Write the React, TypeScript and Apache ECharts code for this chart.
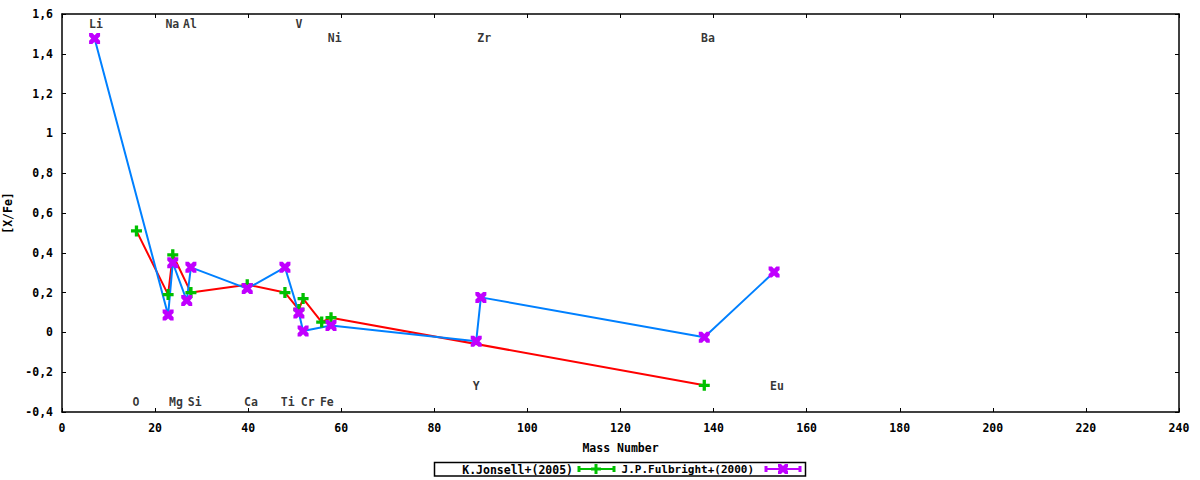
import React, { useEffect, useRef } from "react";
import * as echarts from "echarts";

// K.Jonsell+(2005)
const jonsellMass = [16, 22.8, 23.8, 27.7, 39.8, 47.9, 50.9, 51.8, 55.8, 57.8, 138];
const jonsellXFe = [0.51, 0.19, 0.39, 0.2, 0.24, 0.2, 0.115, 0.17, 0.052, 0.074, -0.266];

// J.P.Fulbright+(2000)
const fulbrightMass = [7, 22.8, 23.8, 26.8, 27.7, 39.8, 47.9, 50.9, 51.8, 57.8, 89, 90, 138, 153];
const fulbrightXFe = [1.477, 0.087, 0.35, 0.16, 0.327, 0.22, 0.327, 0.097, 0.007, 0.035, -0.044, 0.176, -0.024, 0.303];

// element annotations
const elementNames = ["Li", "Na", "Al", "V", "Ni", "Zr", "Ba", "O", "Mg", "Si", "Ca", "Ti", "Cr", "Fe", "Y", "Eu"];
const elementLabelX = [7.3, 23.7, 27.5, 50.9, 58.6, 90.7, 138.8, 15.9, 24.5, 28.5, 40.6, 48.5, 52.8, 56.9, 89, 153.6];
const elementLabelY = [1.55, 1.55, 1.55, 1.55, 1.48, 1.48, 1.48, -0.35, -0.35, -0.35, -0.35, -0.35, -0.35, -0.35, -0.27, -0.27];

const legendNames = ["K.Jonsell+(2005)", "J.P.Fulbright+(2000)"];

const FONT = "'DejaVu Sans Mono', 'Liberation Mono', monospace";
const GREEN = "#00c000";
const MAGENTA = "#c000ff";
const RED = "#ff0000";
const BLUE = "#0080ff";

const PLUS = "path://M3.5,0H6.5V3.5H10V6.5H6.5V10H3.5V6.5H0V3.5H3.5Z";
const XMARK = "path://M0,0L3,0L5,2L7,0L10,0L10,3L8,5L10,7L10,10L7,10L5,8L3,10L0,10L0,7L2,5L0,3Z";

const fmt = (v: number) => String(Math.round(v * 10) / 10).replace(".", ",");

export default function App() {
  const ref = useRef<HTMLDivElement>(null);
  useEffect(() => {
    if (!ref.current) return;
    const chart = echarts.init(ref.current, null, { renderer: "svg" });
    const textStyle = { fontFamily: FONT, fontSize: 11.5, fontWeight: "bold" as const, color: "#000" };
    const axisLine = { show: true, onZero: false, lineStyle: { color: "#000", width: 1.5 } };
    const axisTick = { show: true, inside: true, length: 4, lineStyle: { color: "#000" } };

    const legendGraphic = [
      {
        type: "rect",
        shape: { x: 434.5, y: 462.5, width: 371, height: 13.5 },
        style: { fill: "#fff", stroke: "#000", lineWidth: 1.5 },
      },
      {
        type: "text",
        x: 573,
        y: 469.5,
        style: { text: legendNames[0], align: "right", verticalAlign: "middle", font: `bold 11.5px ${FONT}`, fill: "#000" },
      },
      { type: "line", shape: { x1: 578, y1: 469, x2: 615, y2: 469 }, style: { stroke: GREEN, lineWidth: 2 } },
      { type: "line", shape: { x1: 579, y1: 466, x2: 579, y2: 472 }, style: { stroke: GREEN, lineWidth: 3 } },
      { type: "line", shape: { x1: 614, y1: 466, x2: 614, y2: 472 }, style: { stroke: GREEN, lineWidth: 3 } },
      { type: "rect", shape: { x: 591, y: 467.5, width: 10, height: 3 }, style: { fill: GREEN } },
      { type: "rect", shape: { x: 594.5, y: 464, width: 3, height: 10 }, style: { fill: GREEN } },
      {
        type: "text",
        x: 754,
        y: 469.5,
        style: { text: legendNames[1], align: "right", verticalAlign: "middle", font: `bold 11px ${FONT}`, fill: "#000" },
      },
      { type: "line", shape: { x1: 765, y1: 469, x2: 801, y2: 469 }, style: { stroke: MAGENTA, lineWidth: 2 } },
      { type: "line", shape: { x1: 766, y1: 466, x2: 766, y2: 472 }, style: { stroke: MAGENTA, lineWidth: 3 } },
      { type: "line", shape: { x1: 800, y1: 466, x2: 800, y2: 472 }, style: { stroke: MAGENTA, lineWidth: 3 } },
      {
        type: "polygon",
        shape: {
          points: [
            [778, 464], [781, 464], [783, 466], [785, 464], [788, 464], [788, 467], [786, 469], [788, 471],
            [788, 474], [785, 474], [783, 472], [781, 474], [778, 474], [778, 471], [780, 469], [778, 467],
          ],
        },
        style: { fill: MAGENTA },
      },
    ];

    chart.setOption({
      animation: false,
      backgroundColor: "#fff",
      grid: { left: 62, right: 21, top: 14, bottom: 68, containLabel: false, outerBoundsMode: "none" },
      xAxis: [
        {
          type: "value",
          min: 0,
          max: 240,
          interval: 20,
          name: "Mass Number",
          nameLocation: "middle",
          nameGap: 30,
          nameTextStyle: textStyle,
          axisLine,
          axisTick,
          axisLabel: { ...textStyle, margin: 10 },
          splitLine: { show: false },
        },
        {
          type: "value",
          position: "top",
          min: 0,
          max: 240,
          interval: 20,
          axisLine,
          axisTick,
          axisLabel: { show: false },
          splitLine: { show: false },
        },
      ],
      yAxis: [
        {
          type: "value",
          min: -0.4,
          max: 1.6,
          interval: 0.2,
          name: "[X/Fe]",
          nameLocation: "middle",
          nameGap: 43,
          nameRotate: 90,
          nameTextStyle: textStyle,
          axisLine,
          axisTick,
          axisLabel: { ...textStyle, margin: 9, formatter: fmt },
          splitLine: { show: false },
        },
        {
          type: "value",
          position: "right",
          min: -0.4,
          max: 1.6,
          interval: 0.2,
          axisLine,
          axisTick,
          axisLabel: { show: false },
          splitLine: { show: false },
        },
      ],
      series: [
        {
          name: legendNames[0],
          type: "line",
          data: jonsellMass.map((m, i) => [m, jonsellXFe[i]]),
          lineStyle: { color: RED, width: 2 },
          itemStyle: { color: GREEN },
          symbol: PLUS,
          symbolSize: 11,
          showAllSymbol: true,
        },
        {
          name: legendNames[1],
          type: "line",
          data: fulbrightMass.map((m, i) => [m, fulbrightXFe[i]]),
          lineStyle: { color: BLUE, width: 2 },
          itemStyle: { color: MAGENTA },
          symbol: XMARK,
          symbolSize: 11,
          showAllSymbol: true,
        },
        {
          name: "elements",
          type: "scatter",
          symbolSize: 0,
          silent: true,
          data: elementNames.map((n, i) => ({ name: n, value: [elementLabelX[i], elementLabelY[i]] })),
          label: {
            show: true,
            position: "inside",
            formatter: (p: any) => p.name,
            ...textStyle,
          },
        },
      ],
      graphic: legendGraphic,
    });
    return () => chart.dispose();
  }, []);
  return (
    <div
      ref={ref}
      style={{ position: "fixed", left: 0, top: 0, width: 1200, height: 480, background: "#fff" }}
    />
  );
}
